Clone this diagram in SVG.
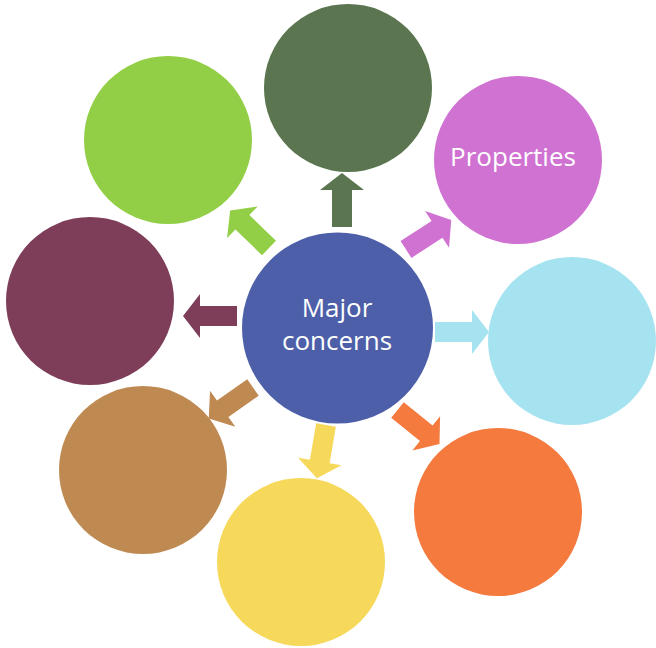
<svg xmlns="http://www.w3.org/2000/svg" xmlns:xlink="http://www.w3.org/1999/xlink" width="656" height="648" viewBox="0 0 656 648">
  <style>
    .lbl { font-family: "Open Sans", "Lato", "DejaVu Sans", sans-serif; font-size: 26px; fill: #ffffff; text-anchor: middle; }
  </style>
  <defs>
    <path id="arrow" d="M0,-10 L37,-10 L37,-22 L54,0 L37,22 L37,10 L0,10 Z"/>
  </defs>
  <rect width="656" height="648" fill="#ffffff"/>
  <g id="connectors">
    <use xlink:href="#arrow" href="#arrow" fill="#5a7550" transform="translate(342,227) rotate(-90)"/>
    <use xlink:href="#arrow" href="#arrow" fill="#d072d2" transform="translate(406,249.5) rotate(-33)"/>
    <use xlink:href="#arrow" href="#arrow" fill="#a6e3f0" transform="translate(435,332) rotate(0)"/>
    <use xlink:href="#arrow" href="#arrow" fill="#f47a3e" transform="translate(397.5,410) rotate(39)"/>
    <use xlink:href="#arrow" href="#arrow" fill="#f6d85a" transform="translate(326,425) rotate(99.7)"/>
    <use xlink:href="#arrow" href="#arrow" fill="#bf8a52" transform="translate(253,387.5) rotate(145)"/>
    <use xlink:href="#arrow" href="#arrow" fill="#7e3e5a" transform="translate(237,316) rotate(180)"/>
    <use xlink:href="#arrow" href="#arrow" fill="#92cf46" transform="translate(269,248) rotate(224)"/>
  </g>
  <g id="node-top"><circle cx="348" cy="88" r="84" fill="#5a7550"/></g>
  <g id="node-properties"><circle cx="518" cy="160" r="84" fill="#d072d2"/>
    <text class="lbl" x="513" y="166" font-size="25">Properties</text></g>
  <g id="node-right"><circle cx="572" cy="341" r="84" fill="#a6e3f0"/></g>
  <g id="node-bottom-right"><circle cx="498" cy="512" r="84" fill="#f47a3e"/></g>
  <g id="node-bottom"><circle cx="301" cy="562" r="84" fill="#f6d85a"/></g>
  <g id="node-bottom-left"><circle cx="143" cy="470" r="84" fill="#bf8a52"/></g>
  <g id="node-left"><circle cx="90" cy="301" r="84" fill="#7e3e5a"/></g>
  <g id="node-top-left"><circle cx="168" cy="140" r="84" fill="#92cf46"/></g>
  <g id="node-center"><circle cx="337.5" cy="328" r="95.5" fill="#4d5fa8"/>
    <text class="lbl" x="337" y="317">Major</text>
    <text class="lbl" x="337" y="350">concerns</text></g>
</svg>
